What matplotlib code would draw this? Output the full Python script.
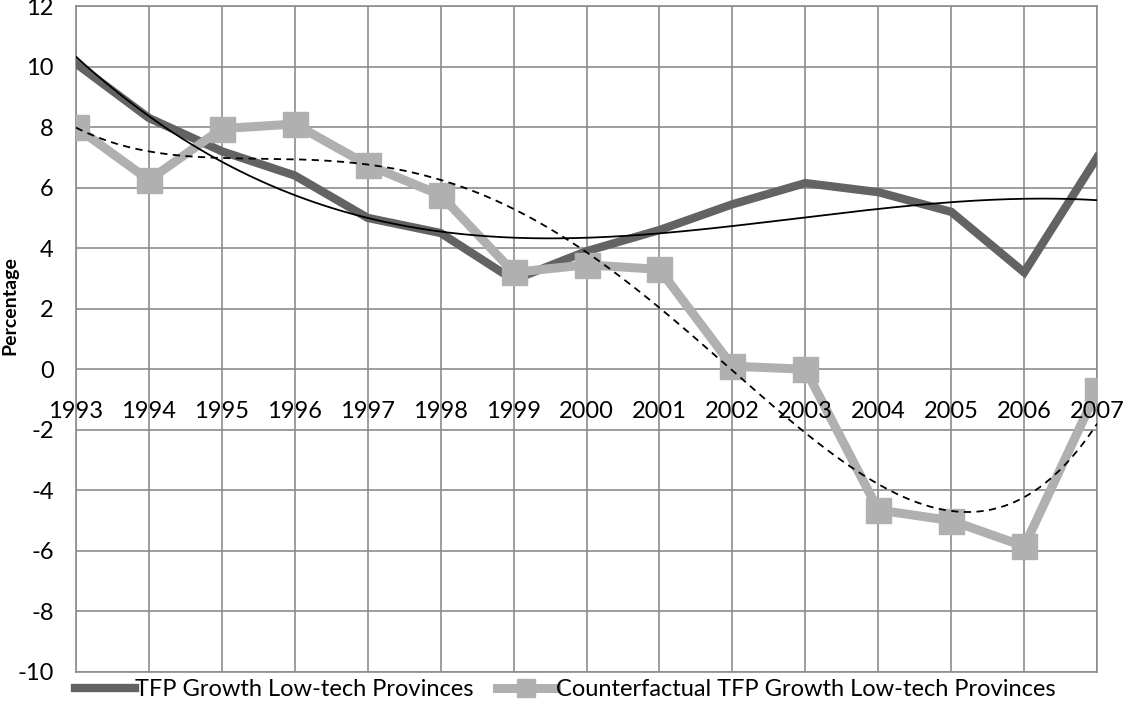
import matplotlib.pyplot as plt
import numpy as np

plt.rcParams['font.family'] = ['Lato', 'DejaVu Sans']
plt.rcParams['axes.unicode_minus'] = False

years = ['1993', '1994', '1995', '1996', '1997', '1998', '1999', '2000',
         '2001', '2002', '2003', '2004', '2005', '2006', '2007']
tfp_growth = [10.1, 8.3, 7.2, 6.4, 5.0, 4.5, 2.95, 3.9, 4.6, 5.45, 6.15, 5.85, 5.2, 3.2, 7.0]
counterfactual = [8.0, 6.25, 7.95, 8.1, 6.75, 5.75, 3.2, 3.45, 3.3, 0.1, 0.0, -4.65, -5.0, -5.85, -0.7]

x = np.arange(len(years))
xs = np.linspace(0, len(years) - 1, 300)

fig = plt.figure(figsize=(11.24, 7.06), dpi=100)
ax = fig.add_axes([0.0676, 0.0482, 0.9085, 0.9433])

dark = '#636363'
light = '#b0b0b0'

ax.plot(x, tfp_growth, color=dark, lw=6, solid_joinstyle='miter',
        label='TFP Growth Low-tech Provinces', zorder=3)
ax.plot(x, counterfactual, color=light, lw=6.5, marker='s', markersize=18,
        label='Counterfactual TFP Growth Low-tech Provinces', zorder=4)

# polynomial trendlines
trend1 = np.polyval(np.polyfit(x, tfp_growth, 3), xs)
trend2 = np.polyval(np.polyfit(x, counterfactual, 4), xs)
ax.plot(xs, trend1, color='black', lw=1.3, zorder=5)
ax.plot(xs, trend2, color='black', lw=1.3, ls=(0, (4, 3)), zorder=5)

ax.set_xlim(0, len(years) - 1)
ax.set_ylim(-10, 12)
ax.set_yticks(np.arange(-10, 13, 2))
ax.set_xticks(x)
ax.set_xticklabels([])
ax.tick_params(axis='both', length=0, labelsize=17)
ax.tick_params(axis='y', pad=16)
ax.grid(True, color='#8c8c8c', lw=1.2)
for s in ax.spines.values():
    s.set_color('#8c8c8c')
    s.set_linewidth(1.2)

for i, yr in enumerate(years):
    ax.text(i, -1.4, yr, ha='center', va='center', fontsize=17, zorder=6)

ax.set_ylabel('Percentage', fontsize=14, fontweight='bold')
ax.yaxis.set_label_coords(-0.056, 0.55)

leg = fig.legend(loc='lower center', bbox_to_anchor=(0.503, -0.022), ncol=2, frameon=False,
                 fontsize=17, handlelength=2.5, handletextpad=0.0, columnspacing=1.0)
for h in leg.legend_handles:
    h.set_markersize(13)

plt.savefig('out.png')
